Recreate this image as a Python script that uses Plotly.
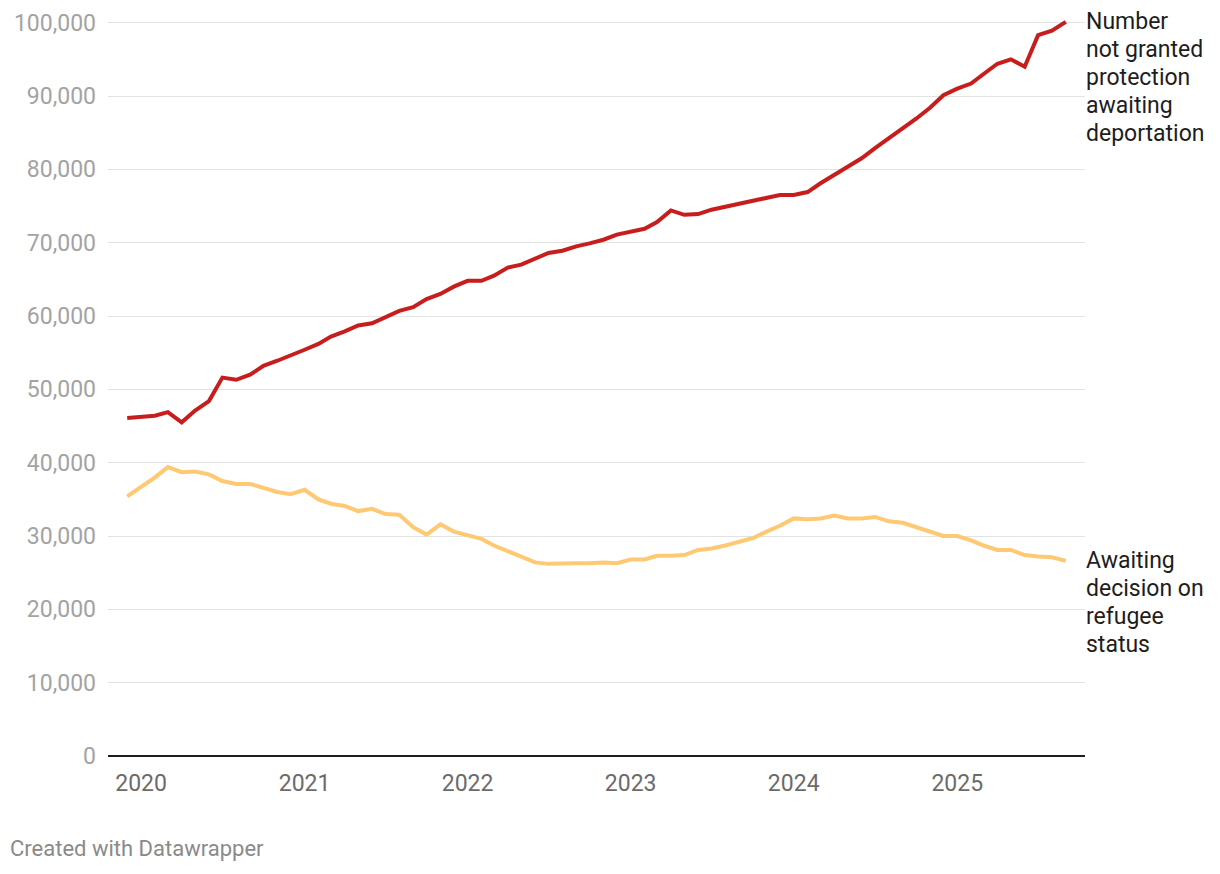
import pandas as pd
import plotly.graph_objects as go

dates = pd.date_range("2019-12-01", periods=70, freq="MS")

not_granted = [
    46.1, 46.3, 46.4, 46.9, 45.5, 47.1, 48.4, 51.6, 51.3, 52.0,
    53.2, 53.9, 54.7, 55.4, 56.2, 57.2, 57.9, 58.7, 59.0, 59.9,
    60.7, 61.2, 62.3, 63.0, 64.0, 64.8, 64.8, 65.5, 66.6, 67.0,
    67.8, 68.6, 68.9, 69.5, 69.9, 70.4, 71.1, 71.5, 71.9, 72.8,
    74.4, 73.8, 73.9, 74.5, 74.9, 75.3, 75.7, 76.1, 76.5, 76.5,
    76.9, 78.1, 79.2, 80.4, 81.5, 82.9, 84.2, 85.6, 86.9, 88.4,
    90.1, 91.0, 91.7, 93.0, 94.4, 95.0, 94.0, 98.3, 98.9, 100.1,
]
awaiting = [
    35.4, 36.7, 38.0, 39.4, 38.7, 38.8, 38.4, 37.5, 37.1, 37.1,
    36.5, 36.0, 35.7, 36.3, 35.0, 34.4, 34.1, 33.4, 33.7, 33.0,
    32.9, 31.2, 30.2, 31.6, 30.6, 30.1, 29.6, 28.7, 27.9, 27.1,
    26.4, 26.2, 26.3, 26.3, 26.3, 26.4, 26.3, 26.8, 26.8, 27.3,
    27.3, 27.4, 28.1, 28.3, 28.7, 29.2, 29.7, 30.6, 31.4, 32.4,
    32.3, 32.4, 32.8, 32.4, 32.4, 32.6, 32.0, 31.8, 31.2, 30.6,
    30.0, 30.0, 29.4, 28.7, 28.1, 28.1, 27.4, 27.2, 27.1, 26.6,
]
not_granted = [v * 1000 for v in not_granted]
awaiting = [v * 1000 for v in awaiting]

label_red = ["Number", "not granted", "protection", "awaiting", "deportation"]
label_yellow = ["Awaiting", "decision on", "refugee", "status"]

year_ticks = pd.to_datetime(["2020-01-01", "2021-01-01", "2022-01-01",
                             "2023-01-01", "2024-01-01", "2025-01-01"])
year_labels = ["2020", "2021", "2022", "2023", "2024", "2025"]
y_ticks = list(range(0, 100001, 10000))

RED = "#c71e1d"
YELLOW = "#ffc973"
FONT = "Roboto"

fig = go.Figure()
fig.add_trace(go.Scatter(x=dates, y=awaiting, mode="lines",
                         line=dict(color=YELLOW, width=4), cliponaxis=False,
                         hoverinfo="skip"))
fig.add_trace(go.Scatter(x=dates, y=not_granted, mode="lines",
                         line=dict(color=RED, width=4), cliponaxis=False,
                         hoverinfo="skip"))

anns = []
for k, t in enumerate(label_red):
    anns.append(dict(x=dates[-1], y=not_granted[-1], xref="x", yref="y",
                     text=t, showarrow=False, xanchor="left", yanchor="middle",
                     xshift=18, yshift=-27.8 * k,
                     font=dict(family=FONT, size=23, color="#1d1d1d")))
for k, t in enumerate(label_yellow):
    anns.append(dict(x=dates[-1], y=awaiting[-1], xref="x", yref="y",
                     text=t, showarrow=False, xanchor="left", yanchor="middle",
                     xshift=18, yshift=-27.8 * k,
                     font=dict(family=FONT, size=23, color="#1d1d1d")))
anns.append(dict(x=0, y=0, xref="paper", yref="paper", text="Created with Datawrapper",
                 showarrow=False, xanchor="left", yanchor="middle",
                 xshift=-100, yshift=-92,
                 font=dict(family=FONT, size=22, color="#8a8a8a")))

# page body has an 8px margin; offsets below account for it
fig.update_layout(
    width=1220, height=874,
    margin=dict(l=100, r=143, t=11.335, b=126, autoexpand=False),
    paper_bgcolor="white", plot_bgcolor="white",
    showlegend=False,
    font=dict(family=FONT),
    annotations=anns,
    xaxis=dict(
        type="date", automargin=False,
        range=["2019-10-19", "2025-10-14"],
        tickvals=year_ticks, ticktext=year_labels,
        showgrid=False, zeroline=False, showline=False, ticks="",
        tickfont=dict(family=FONT, size=23, color="#6b6b6b"),
        ticklabelstandoff=11,
    ),
    yaxis=dict(
        automargin=False,
        range=[0, 100500],
        tickvals=y_ticks, tickformat=",d",
        showgrid=True, gridcolor="#e3e3e3", gridwidth=1.3,
        zeroline=True, zerolinecolor="#1d1d1d", zerolinewidth=2,
        showline=False, ticks="",
        tickfont=dict(family=FONT, size=23, color="#a3a3a3"),
        ticklabelstandoff=11,
    ),
)

fig.write_html("out.html")
